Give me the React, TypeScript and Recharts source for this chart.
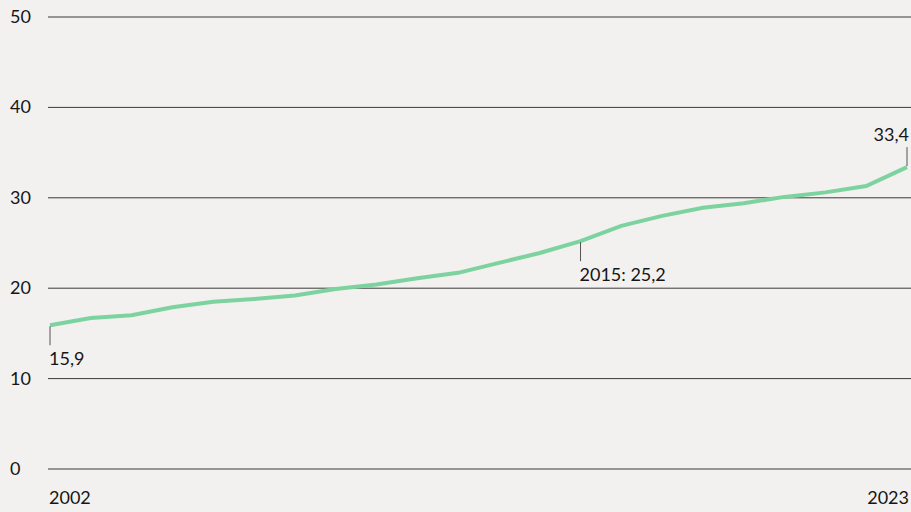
import { LineChart, Line, XAxis, YAxis, CartesianGrid, LabelList } from "recharts";

const years = [
  2002, 2003, 2004, 2005, 2006, 2007, 2008, 2009, 2010, 2011, 2012,
  2013, 2014, 2015, 2016, 2017, 2018, 2019, 2020, 2021, 2022, 2023,
];

const values = [
  15.9, 16.7, 17.0, 17.9, 18.5, 18.8, 19.2, 19.9, 20.4, 21.1, 21.7,
  22.8, 23.9, 25.2, 26.9, 28.0, 28.9, 29.4, 30.1, 30.6, 31.3, 33.4,
];

const yTicks = [0, 10, 20, 30, 40, 50];

// which points get a callout, and how the label reads
const callouts: Record<number, string> = {
  0: "15,9",
  13: "2015: 25,2",
  21: "33,4",
};

const data = years.map((year, i) => ({ year, value: values[i] }));

const TEXT = "#161616";
const FONT = "Lato, 'Open Sans', sans-serif";
const SIZE = 18;

const YTick = (props: any) => {
  const { y, payload } = props;
  return (
    <text x={10} y={y - 1} fill={TEXT} fontSize={SIZE} fontFamily={FONT} dominantBaseline="central">
      {payload.value}
    </text>
  );
};

const XTick = (props: any) => {
  const { x, y, payload } = props;
  const last = payload.value === years[years.length - 1];
  return (
    <text
      x={last ? x + 2 : x - 1}
      y={y + 28}
      fill={TEXT}
      fontSize={SIZE}
      fontFamily={FONT}
      textAnchor={last ? "end" : "start"}
      dominantBaseline="central"
    >
      {payload.value}
    </text>
  );
};

const Callout = (props: any) => {
  const { x, y, index } = props;
  const label = callouts[index];
  if (!label) return null;
  const up = index === values.length - 1;
  if (up) {
    return (
      <g>
        <line x1={x} y1={y - 1} x2={x} y2={y - 20} stroke="#555" strokeWidth={1} />
        <text x={x + 2} y={y - 33} fill={TEXT} fontSize={SIZE} fontFamily={FONT} textAnchor="end" dominantBaseline="central">
          {label}
        </text>
      </g>
    );
  }
  return (
    <g>
      <line x1={x} y1={y + 1} x2={x} y2={y + 20} stroke="#555" strokeWidth={1} />
      <text x={x - 1} y={y + 33} fill={TEXT} fontSize={SIZE} fontFamily={FONT} textAnchor="start" dominantBaseline="central">
        {label}
      </text>
    </g>
  );
};

export default function App() {
  return (
    <div style={{ position: "fixed", left: 0, top: 0, width: 911, height: 512, background: "#f2f1ef" }}>
      <LineChart width={911} height={512} data={data} margin={{ top: 17, right: 0, bottom: 0, left: 0 }}>
        <CartesianGrid vertical={false} stroke="#3a3a3a" strokeWidth={1} />
        <XAxis
          dataKey="year"
          type="number"
          domain={[2002, 2023]}
          ticks={[2002, 2023]}
          axisLine={false}
          tickLine={false}
          tickSize={0}
          tickMargin={0}
          height={43}
          padding={{ left: 2, right: 4 }}
          tick={<XTick />}
          interval={0}
        />
        <YAxis
          domain={[0, 50]}
          ticks={yTicks}
          axisLine={false}
          tickLine={false}
          width={48}
          tick={<YTick />}
          interval={0}
        />
        <Line
          type="linear"
          dataKey="value"
          stroke="#7dd3a0"
          strokeWidth={4}
          dot={false}
          isAnimationActive={false}
        >
          <LabelList dataKey="value" content={<Callout />} />
        </Line>
      </LineChart>
    </div>
  );
}
